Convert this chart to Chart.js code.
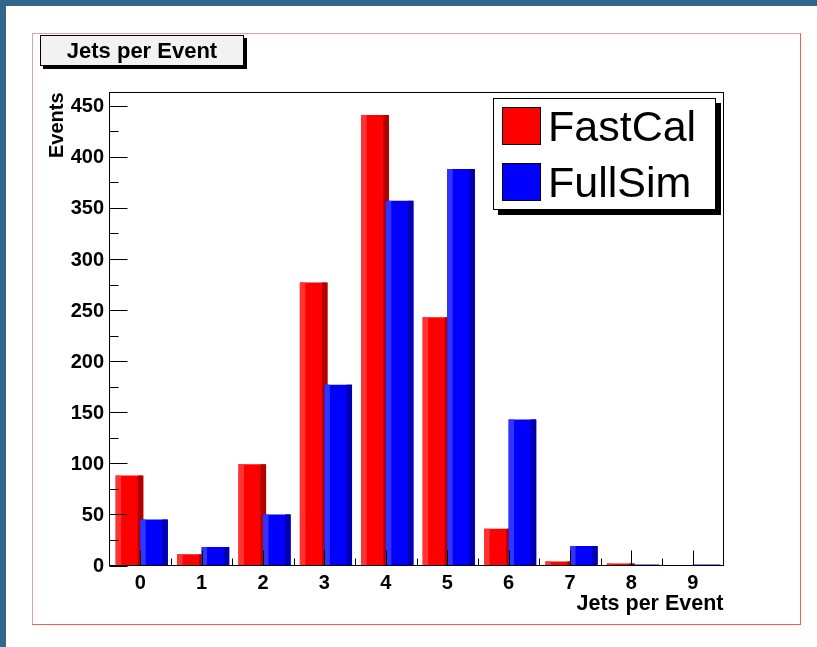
<!DOCTYPE html>
<html>
<head>
<meta charset="utf-8">
<script src="https://cdn.jsdelivr.net/npm/chart.js@4/dist/chart.umd.min.js"></script>
<style>
  html, body { margin: 0; padding: 0; background: #fff; }
  #wrap { position: relative; width: 817px; height: 647px; overflow: hidden; background: #fff; font-family: "Liberation Sans", Arial, Helvetica, sans-serif; }
  #topbar { position: absolute; left: 0; top: 0; width: 817px; height: 6px; background: #32668a; }
  #leftbar { position: absolute; left: 0; top: 0; width: 6px; height: 647px; background: #32668a; }
  #frame { position: absolute; left: 32px; top: 33px; width: 769px; height: 592px; box-sizing: border-box;
           border: 1px solid #ff5555; border-left-color: #e0a3a3; border-top-color: #e0a3a3; }
  #chart { position: absolute; left: 0; top: 0; }
  #title { position: absolute; left: 40px; top: 35px; width: 204px; height: 31px; box-sizing: border-box;
           border: 1px solid #000; background: #f2f2f2; box-shadow: 3px 3px 0 #000;
           font-weight: bold; font-size: 22px; line-height: 29px; text-align: center; color: #000; }
  #legend { position: absolute; left: 493px; top: 98px; width: 223px; height: 112px; box-sizing: border-box;
            border: 1px solid #000; background: #fff; box-shadow: 5px 5px 0 #000; padding-top: 0; }
  .row { position: relative; height: 55.5px; }
  .sw { position: absolute; left: 8px; top: 8px; width: 39px; height: 38px; box-sizing: border-box; border: 1px solid #000; }
  .lab { position: absolute; left: 54px; top: 0; font-size: 43px; line-height: 55px; color: #000; white-space: nowrap; }
</style>
</head>
<body>
<div id="wrap">
  <div id="topbar"></div>
  <div id="leftbar"></div>
  <div id="frame"></div>
  <canvas id="chart" width="817" height="647"></canvas>
  <div id="title"></div>
  <div id="legend"></div>
</div>
<script>
// ---- data ----
const categories = [0, 1, 2, 3, 4, 5, 6, 7, 8, 9];
const fastCal = [88, 11, 99, 277, 441, 243, 36, 4, 2, 0];
const fullSim = [45, 18, 50, 177, 357, 388, 143, 19, 0, 0];
const seriesNames = ['FastCal', 'FullSim'];
const yTickValues = [0, 50, 100, 150, 200, 250, 300, 350, 400, 450];
const yMax = 463;
const chartTitle = 'Jets per Event';
const xTitle = 'Jets per Event';
const yTitle = 'Events';

// ---- styles ----
const colors = [
  { main: '#ff0000', light: '#ff3333', dark: '#b00000' },
  { main: '#0000ff', light: '#3333ff', dark: '#0000b0' }
];

document.getElementById('title').textContent = chartTitle;
const legendEl = document.getElementById('legend');
seriesNames.forEach((name, i) => {
  const row = document.createElement('div'); row.className = 'row';
  const sw = document.createElement('div'); sw.className = 'sw'; sw.style.background = colors[i].main;
  const lab = document.createElement('div'); lab.className = 'lab'; lab.textContent = name;
  row.appendChild(sw); row.appendChild(lab); legendEl.appendChild(row);
});

const FONT = '"Liberation Sans", Arial, Helvetica, sans-serif';

// ROOT-style 3D shading of bars
const shadePlugin = {
  id: 'shade',
  afterDatasetDraw(chart, args) {
    const c = colors[args.index];
    const ctx = chart.ctx;
    ctx.save();
    args.meta.data.forEach(bar => {
      const p = bar.getProps(['x', 'y', 'base', 'width'], true);
      const h = p.base - p.y;
      if (h <= 1) return;
      const left = p.x - p.width / 2;
      const sw = p.width * 0.2;
      ctx.fillStyle = c.light; ctx.fillRect(left, p.y, sw, h);
      ctx.fillStyle = c.dark; ctx.fillRect(left + p.width - sw, p.y, sw, h);
    });
    ctx.restore();
  }
};

// ROOT-style inward ticks and frame
const axesPlugin = {
  id: 'rootAxes',
  afterDatasetsDraw(chart) {
    const { ctx, chartArea: a, scales } = chart;
    const xs = scales.x, ys = scales.y;
    ctx.save();
    ctx.strokeStyle = '#000';
    ctx.lineWidth = 1;
    ctx.beginPath();
    const ystep = yTickValues[1] - yTickValues[0];
    yTickValues.forEach(v => {
      const p = Math.round(ys.getPixelForValue(v)) + 0.5;
      ctx.moveTo(a.left, p); ctx.lineTo(a.left + 18, p);
      const m = v + ystep / 2;
      if (m < ys.max) {
        const pm = Math.round(ys.getPixelForValue(m)) + 0.5;
        ctx.moveTo(a.left, pm); ctx.lineTo(a.left + 9, pm);
      }
    });
    categories.forEach(v => {
      const p = Math.round(xs.getPixelForValue(v)) + 0.5;
      ctx.moveTo(p, a.bottom); ctx.lineTo(p, a.bottom - 15);
      const m = v + 0.5;
      if (m < xs.max) {
        const pm = Math.round(xs.getPixelForValue(m)) + 0.5;
        ctx.moveTo(pm, a.bottom); ctx.lineTo(pm, a.bottom - 7);
      }
    });
    ctx.stroke();
    ctx.strokeRect(a.left, a.top, a.right - a.left, a.bottom - a.top);
    ctx.restore();
  }
};

const toPoints = arr => categories.map((c, i) => ({ x: c, y: arr[i] }));

new Chart(document.getElementById('chart'), {
  type: 'bar',
  data: {
    datasets: [
      { label: seriesNames[0], data: toPoints(fastCal), xAxisID: 'xA', yAxisID: 'y',
        backgroundColor: colors[0].main, borderWidth: 0, order: 2, grouped: false,
        categoryPercentage: 0.45, barPercentage: 1 },
      { label: seriesNames[1], data: toPoints(fullSim), xAxisID: 'xB', yAxisID: 'y',
        backgroundColor: colors[1].main, borderWidth: 0, order: 1, grouped: false,
        categoryPercentage: 0.45, barPercentage: 1, minBarLength: 1 }
    ]
  },
  options: {
    responsive: false,
    animation: false,
    devicePixelRatio: 1,
    layout: { padding: { left: 0, top: 92.5, right: 93.5, bottom: 0 } },
    plugins: { legend: { display: false }, tooltip: { enabled: false } },
    scales: {
      x: {
        type: 'linear', position: 'bottom', min: -0.5, max: 9.5, offset: false,
        afterBuildTicks: s => { s.ticks = categories.map(v => ({ value: v })); },
        afterFit: s => { s.height = 81.5; },
        grid: { display: false, drawTicks: false, offset: false },
        border: { display: false },
        ticks: { color: '#000', font: { family: FONT, size: 20, weight: 'bold' }, padding: 6,
                 maxRotation: 0, autoSkip: false, callback: v => String(v) },
        title: { display: true, text: xTitle, align: 'end', color: '#000',
                 font: { family: FONT, size: 21.5, weight: 'bold' }, padding: { top: 0, bottom: 30 } }
      },
      xA: { type: 'linear', display: false, min: -0.325, max: 9.675, offset: false, grid: { offset: false } },
      xB: { type: 'linear', display: false, min: -0.725, max: 9.275, offset: false, grid: { offset: false } },
      y: {
        type: 'linear', position: 'left', min: 0, max: yMax,
        afterBuildTicks: s => { s.ticks = yTickValues.map(v => ({ value: v })); },
        afterFit: s => { s.width = 109.5; },
        grid: { display: false, drawTicks: false },
        border: { display: false },
        ticks: { color: '#000', font: { family: FONT, size: 20, weight: 'bold' }, padding: 5.5,
                 labelOffset: 1, callback: v => String(v) },
        title: { display: true, text: yTitle, align: 'end', color: '#000',
                 font: { family: FONT, size: 20, weight: 'bold' }, padding: { top: 45, bottom: 0 } }
      }
    }
  },
  plugins: [shadePlugin, axesPlugin]
});
</script>
</body>
</html>
